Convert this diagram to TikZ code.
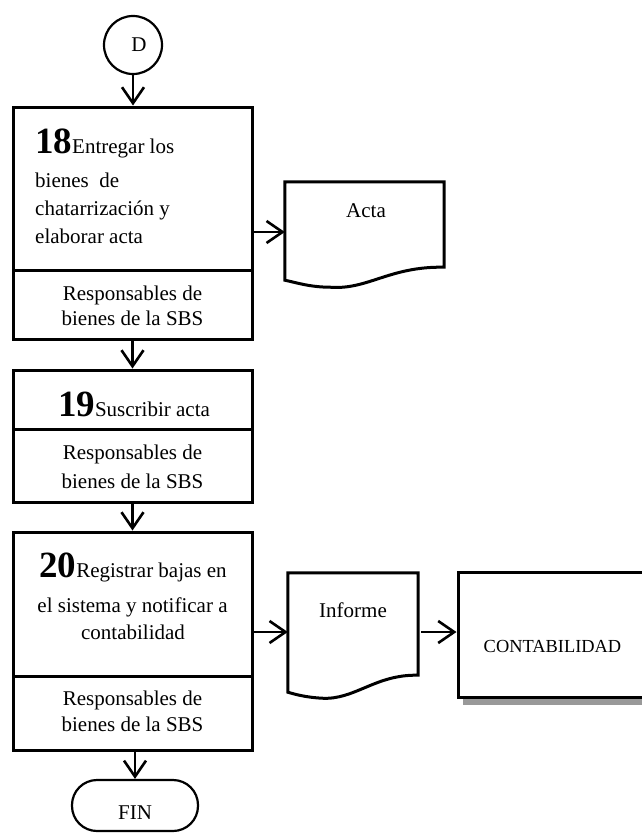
\documentclass[tikz,border=0pt]{standalone}
\usepackage{fontspec}
\setmainfont{Liberation Serif}
\usetikzlibrary{arrows.meta,calc,shadows}
\newcommand\fsz[1]{\fontsize{#1}{#1}\selectfont}

\begin{document}
\begin{tikzpicture}[x=1pt,y=-1pt,
  boxpart/.style={draw, line width=3pt, minimum width=239pt, inner sep=0pt},
  flow/.style={line width=2.6pt, -{Straight Barb[length=16pt,width=22pt]}},
  txt/.style={inner sep=0pt, font=\fsz{21}},
  lbl/.style={txt, anchor=base},
  lbll/.style={txt, anchor=base west},
  docbox/.style={inner sep=0pt},
  docline/.style={line width=3pt, line join=miter}
]
\useasboundingbox (0,0) rectangle (642,835);
\clip (0,0) rectangle (642,835);

% start connector
\node[draw, circle, line width=2.2pt, minimum size=58pt, inner sep=0pt, font=\fsz{21}] (d) at (133,45) {\hspace*{12pt}D};

% step 18
\node[boxpart, minimum height=163pt] (t18) at (132.5,188.5) {};
\node[boxpart, minimum height=69pt]  (r18) at (132.5,304.5) {};
\node[lbll] (s18a) at (35,153) {{\fsz{37}\bfseries 18}Entregar los};
\node[lbll] (s18b) at (35,187) {bienes\ \ de};
\node[lbll] (s18c) at (35,215) {chatarrización y};
\node[lbll] (s18d) at (35,243) {elaborar acta};
\node[lbl] (w18a) at (132.5,300) {Responsables de};
\node[lbl] (w18b) at (132.5,325) {bienes de la SBS};

% step 19
\node[boxpart, minimum height=59pt] (t19) at (132.5,399.5) {};
\node[boxpart, minimum height=73pt] (r19) at (132.5,465.5) {};
\node[lbl] (s19) at (134,416) {{\fsz{37}\bfseries 19}Suscribir acta};
\node[lbl] (w19a) at (132.5,459) {Responsables de};
\node[lbl] (w19b) at (132.5,488) {bienes de la SBS};

% step 20
\node[boxpart, minimum height=144pt] (t20) at (132.5,604) {};
\node[boxpart, minimum height=74pt]  (r20) at (132.5,713) {};
\node[lbl] (s20a) at (133,577) {{\fsz{37}\bfseries 20}Registrar bajas en};
\node[lbl] (s20b) at (132.5,612) {el sistema y notificar a};
\node[lbl] (s20c) at (133,639) {contabilidad};
\node[lbl] (w20a) at (132.5,705) {Responsables de};
\node[lbl] (w20b) at (132.5,731) {bienes de la SBS};

% end terminal
\node[draw, rounded corners=25pt, line width=2.2pt, minimum width=126pt, minimum height=51pt, inner sep=0pt] (fin) at (135,805.5) {};
\node[lbl] (finlbl) at (135,819) {FIN};

% documents
\node[docbox, minimum width=159pt, minimum height=100pt] (acta) at (364.5,232) {};
\draw[docline] (acta.north west) -- (acta.north east) -- ($(acta.south east)+(0,-15)$)
  .. controls +(-55,-1) and +(38,3) .. ($(acta.south west)+(45,5)$)
  .. controls +(-20,0) and +(10,2) .. ($(acta.south west)+(0,-2)$) -- cycle;
\node[lbl] (actalbl) at (366,217) {Acta};

\node[docbox, minimum width=130pt, minimum height=118pt] (inf) at (353,632) {};
\draw[docline] (inf.north west) -- (inf.north east) -- ($(inf.south east)+(0,-16)$)
  .. controls +(-43,-1) and +(33,2) .. ($(inf.south west)+(34,7)$)
  .. controls +(-17,-1) and +(7,2) .. ($(inf.south west)+(0,1)$) -- cycle;
\node[lbl] (inflbl) at (353,617) {Informe};

% receiving area
\node[draw, fill=white, line width=3pt, minimum width=192pt, minimum height=125pt, inner sep=0pt,
  drop shadow={shadow xshift=5pt, shadow yshift=-8pt, opacity=1, fill=black!40}] (cont) at (554,634.5) {};
\node[lbl, font=\fsz{18.4}] (contlbl) at (552.5,652) {CONTABILIDAD};

% connectors
\draw[flow] (d.south) -- (d.south |- t18.north);
\draw[flow] (r18.south) -- (t19.north);
\draw[flow] (r19.south) -- (t20.north);
\draw[flow] (fin.north |- r20.south) -- (fin.north);
\draw[flow] (t18.east |- acta.west) -- (acta.west);
\draw[flow] (t20.east |- inf.west) -- (inf.west);
\draw[flow, shorten <=3pt] (inf.east) -- (inf.east -| cont.west);
\end{tikzpicture}
\end{document}
